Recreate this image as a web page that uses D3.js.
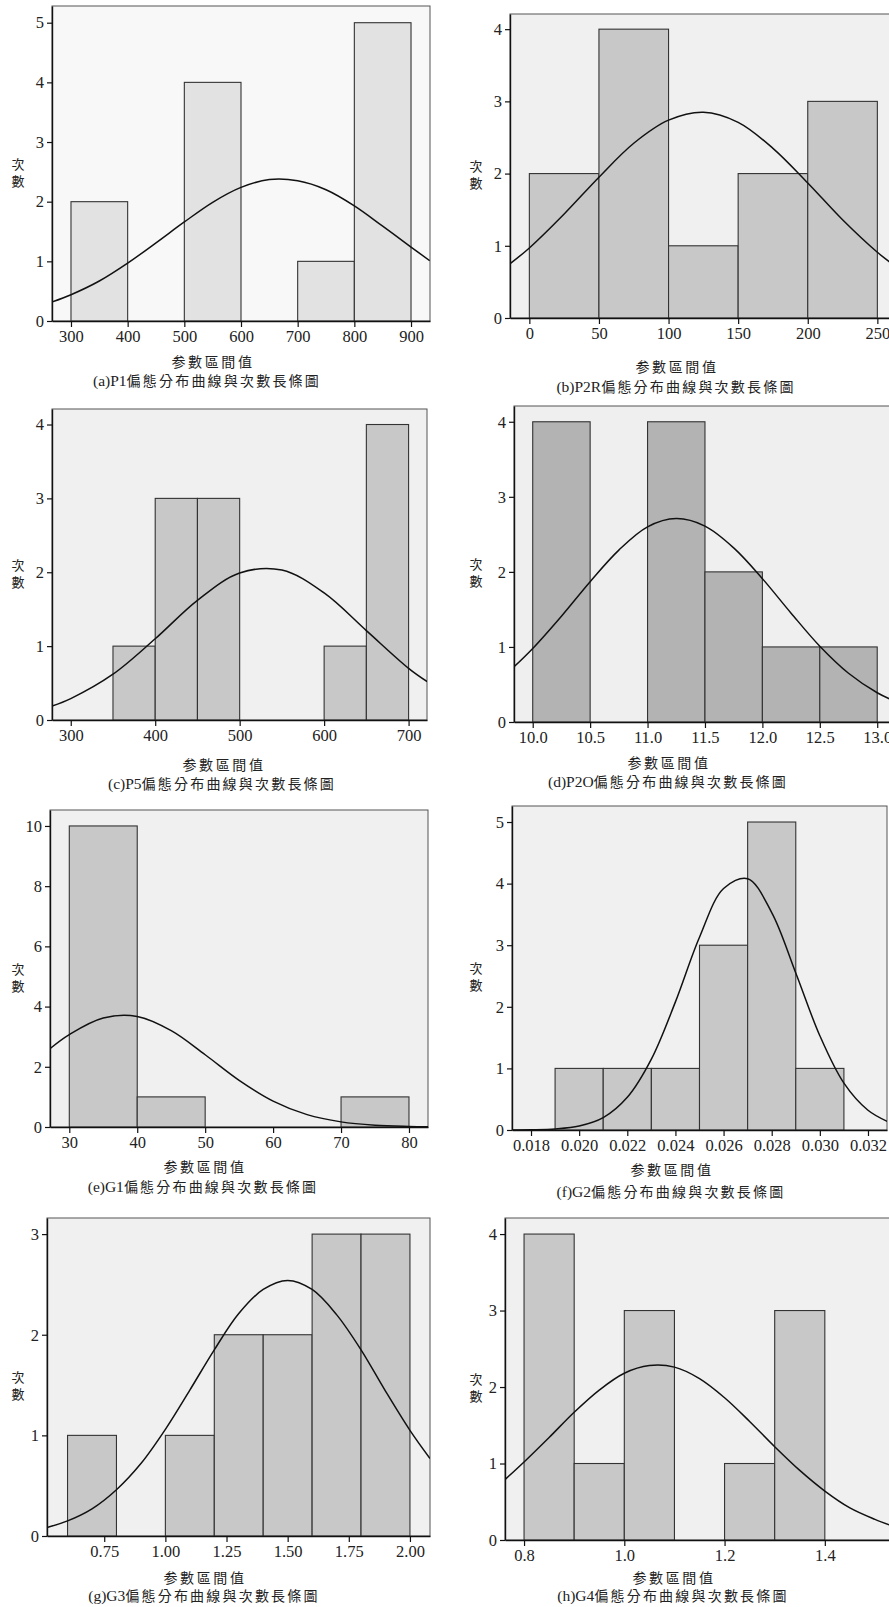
<!DOCTYPE html>
<html>
<head>
<meta charset="utf-8">
<script src="https://cdn.jsdelivr.net/npm/d3@7"></script>
<style>
  body { margin: 0; background: #fff; }
  text { font-family: "Liberation Serif", "Noto Sans CJK TC", serif; fill: #222; }
</style>
</head>
<body>
<div id="d3-container"></div>
<script>
// ---- data ----
// (a) P1
const binsP1 = [300, 500, 700, 800];
const countsP1 = [2, 4, 1, 5];
const curveXP1 = [267, 300, 350, 400, 450, 500, 550, 600, 650, 700, 750, 800, 850, 900, 933];
const curveYP1 = [0.32, 0.44, 0.67, 0.97, 1.31, 1.66, 1.99, 2.24, 2.37, 2.35, 2.20, 1.93, 1.59, 1.24, 1.01];
const xTicksP1 = [300, 400, 500, 600, 700, 800, 900];
const yTicksP1 = [0, 1, 2, 3, 4, 5];

// (b) P2R
const binsP2R = [0, 50, 100, 150, 200];
const countsP2R = [2, 4, 1, 2, 3];
const curveXP2R = [-14, 0, 25, 50, 75, 100, 125, 150, 175, 200, 225, 250, 260];
const curveYP2R = [0.75, 0.97, 1.44, 1.95, 2.42, 2.74, 2.85, 2.71, 2.35, 1.87, 1.36, 0.91, 0.76];
const xTicksP2R = [0, 50, 100, 150, 200, 250];
const yTicksP2R = [0, 1, 2, 3, 4];

// (c) P5
const binsP5 = [350, 400, 450, 600, 650];
const countsP5 = [1, 3, 3, 1, 4];
const curveXP5 = [278, 300, 350, 400, 450, 500, 550, 600, 650, 700, 722];
const curveYP5 = [0.19, 0.29, 0.62, 1.10, 1.62, 1.99, 2.03, 1.72, 1.21, 0.70, 0.52];
const xTicksP5 = [300, 400, 500, 600, 700];
const yTicksP5 = [0, 1, 2, 3, 4];

// (d) P2O
const binsP2O = [10.0, 11.0, 11.5, 12.0, 12.5];
const countsP2O = [4, 4, 2, 1, 1];
const curveXP2O = [9.84, 10.0, 10.25, 10.5, 10.75, 11.0, 11.25, 11.5, 11.75, 12.0, 12.25, 12.5, 12.75, 13.0, 13.12];
const curveYP2O = [0.74, 0.98, 1.41, 1.87, 2.29, 2.60, 2.71, 2.61, 2.32, 1.91, 1.45, 1.01, 0.65, 0.39, 0.30];
const xTicksP2O = [10.0, 10.5, 11.0, 11.5, 12.0, 12.5, 13.0];
const yTicksP2O = [0, 1, 2, 3, 4];

// (e) G1
const binsG1 = [30, 40, 70];
const countsG1 = [10, 1, 1];
const curveXG1 = [27.2, 30, 35, 40, 45, 50, 55, 60, 65, 70, 75, 80, 82.8];
const curveYG1 = [2.61, 3.07, 3.62, 3.67, 3.20, 2.40, 1.55, 0.86, 0.41, 0.17, 0.06, 0.02, 0.01];
const xTicksG1 = [30, 40, 50, 60, 70, 80];
const yTicksG1 = [0, 2, 4, 6, 8, 10];

// (f) G2
const binsG2 = [0.019, 0.021, 0.023, 0.025, 0.027, 0.029];
const countsG2 = [1, 1, 1, 3, 5, 1];
const curveXG2 = [0.0172, 0.018, 0.019, 0.020, 0.021, 0.022, 0.023, 0.024, 0.025, 0.026, 0.027, 0.028, 0.029, 0.030, 0.031, 0.032, 0.0328];
const curveYG2 = [0.001, 0.004, 0.017, 0.064, 0.20, 0.53, 1.15, 2.08, 3.13, 3.92, 4.08, 3.53, 2.55, 1.53, 0.76, 0.32, 0.14];
const xTicksG2 = [0.018, 0.020, 0.022, 0.024, 0.026, 0.028, 0.030, 0.032];
const yTicksG2 = [0, 1, 2, 3, 4, 5];

// (g) G3
const binsG3 = [0.6, 1.0, 1.2, 1.4, 1.6, 1.8];
const countsG3 = [1, 1, 2, 2, 3, 3];
const curveXG3 = [0.516, 0.6, 0.7, 0.8, 0.9, 1.0, 1.1, 1.2, 1.3, 1.4, 1.5, 1.6, 1.7, 1.8, 1.9, 2.0, 2.082];
const curveYG3 = [0.085, 0.15, 0.27, 0.46, 0.72, 1.06, 1.45, 1.85, 2.21, 2.45, 2.54, 2.45, 2.20, 1.85, 1.44, 1.05, 0.77];
const xTicksG3 = [0.75, 1.00, 1.25, 1.50, 1.75, 2.00];
const yTicksG3 = [0, 1, 2, 3];

// (h) G4
const binsG4 = [0.8, 0.9, 1.0, 1.2, 1.3];
const countsG4 = [4, 1, 3, 1, 3];
const curveXG4 = [0.762, 0.8, 0.85, 0.9, 0.95, 1.0, 1.05, 1.1, 1.15, 1.2, 1.25, 1.3, 1.35, 1.4, 1.45, 1.5, 1.532];
const curveYG4 = [0.79, 1.02, 1.34, 1.67, 1.96, 2.18, 2.28, 2.26, 2.11, 1.86, 1.55, 1.22, 0.91, 0.64, 0.42, 0.27, 0.19];
const xTicksG4 = [0.8, 1.0, 1.2, 1.4];
const yTicksG4 = [0, 1, 2, 3, 4];

const binWidths = [100, 50, 50, 0.5, 10, 0.002, 0.2, 0.1];
const captionTags = ["(a)P1", "(b)P2R", "(c)P5", "(d)P2O", "(e)G1", "(f)G2", "(g)G3", "(h)G4"];
const captionText = "偏態分布曲線與次數長條圖";
const xTitle = "参數區間值";
const yTitle = ["次", "數"];

const panels = [
  { bins: binsP1, counts: countsP1, cx: curveXP1, cy: curveYP1, xt: xTicksP1, yt: yTicksP1, fmt: "d" },
  { bins: binsP2R, counts: countsP2R, cx: curveXP2R, cy: curveYP2R, xt: xTicksP2R, yt: yTicksP2R, fmt: "d" },
  { bins: binsP5, counts: countsP5, cx: curveXP5, cy: curveYP5, xt: xTicksP5, yt: yTicksP5, fmt: "d" },
  { bins: binsP2O, counts: countsP2O, cx: curveXP2O, cy: curveYP2O, xt: xTicksP2O, yt: yTicksP2O, fmt: ".1f" },
  { bins: binsG1, counts: countsG1, cx: curveXG1, cy: curveYG1, xt: xTicksG1, yt: yTicksG1, fmt: "d" },
  { bins: binsG2, counts: countsG2, cx: curveXG2, cy: curveYG2, xt: xTicksG2, yt: yTicksG2, fmt: ".3f" },
  { bins: binsG3, counts: countsG3, cx: curveXG3, cy: curveYG3, xt: xTicksG3, yt: yTicksG3, fmt: ".2f" },
  { bins: binsG4, counts: countsG4, cx: curveXG4, cy: curveYG4, xt: xTicksG4, yt: yTicksG4, fmt: ".1f" }
];

// ---- layout (frame box = left, top, right, axis y) ----
const layout = [
  { box: [52, 6, 430, 321], xd: [266.5, 933.5], ymax: 5.28, lab: [213, 367], cap: [207, 386], bg: "#f8f8f8", bar: "#e2e2e2" },
  { box: [510, 14, 891, 318], xd: [-13.9, 259.8], ymax: 4.21, lab: [677, 372], cap: [676, 392], bg: "#f0f0f0", bar: "#c8c8c8" },
  { box: [52, 409, 427, 720], xd: [277.8, 721.8], ymax: 4.21, lab: [224, 770], cap: [222, 789], bg: "#f0f0f0", bar: "#c8c8c8" },
  { box: [514, 406, 891, 722], xd: [9.837, 13.12], ymax: 4.21, lab: [669, 768], cap: [668, 787], bg: "#efefef", bar: "#b3b3b3" },
  { box: [50, 810, 428, 1127], xd: [27.16, 82.8], ymax: 10.53, lab: [205, 1172], cap: [203, 1192], bg: "#f0f0f0", bar: "#c8c8c8" },
  { box: [512, 806, 887, 1130], xd: [0.01721, 0.03279], ymax: 5.26, lab: [672, 1175], cap: [671, 1197], bg: "#f0f0f0", bar: "#c8c8c8" },
  { box: [47, 1218, 430, 1536], xd: [0.516, 2.082], ymax: 3.16, lab: [205, 1583], cap: [204, 1601], bg: "#f0f0f0", bar: "#c8c8c8" },
  { box: [505, 1218, 891, 1540], xd: [0.762, 1.532], ymax: 4.21, lab: [674, 1583], cap: [673, 1601], bg: "#f0f0f0", bar: "#c8c8c8" }
];

const width = 889, height = 1607;
const serif = '"Liberation Serif", "Times New Roman", serif';
const svg = d3.select("#d3-container").append("svg")
  .attr("width", width).attr("height", height);

panels.forEach((p, i) => {
  const L = layout[i];
  const [left, top, right, bottom] = L.box;
  const w = binWidths[i];
  const g = svg.append("g");

  const x = d3.scaleLinear().domain(L.xd).range([left, right]);
  const y = d3.scaleLinear().domain([0, L.ymax]).range([bottom, top]);

  g.append("rect")
    .attr("x", left).attr("y", top)
    .attr("width", right - left).attr("height", bottom - top)
    .attr("fill", L.bg).attr("stroke", "#555").attr("stroke-width", 1);

  const clipId = "clip" + i;
  g.append("clipPath").attr("id", clipId).append("rect")
    .attr("x", left).attr("y", top).attr("width", right - left).attr("height", bottom - top);

  g.append("g")
    .selectAll("rect")
    .data(p.bins.map((b, k) => ({ start: b, count: p.counts[k] })))
    .join("rect")
      .attr("x", d => x(d.start))
      .attr("y", d => y(d.count))
      .attr("width", d => x(d.start + w) - x(d.start))
      .attr("height", d => y(0) - y(d.count))
      .attr("fill", L.bar)
      .attr("stroke", "#333")
      .attr("stroke-width", 1.1);

  const line = d3.line()
    .x(d => x(d[0]))
    .y(d => y(d[1]))
    .curve(d3.curveCatmullRom);

  g.append("path")
    .datum(p.cx.map((v, k) => [v, p.cy[k]]))
    .attr("clip-path", `url(#${clipId})`)
    .attr("d", line)
    .attr("fill", "none")
    .attr("stroke", "#111")
    .attr("stroke-width", 1.5);

  const xAxis = g.append("g")
    .attr("transform", `translate(0,${bottom})`)
    .call(d3.axisBottom(x).tickValues(p.xt).tickFormat(d3.format(p.fmt))
      .tickSize(6).tickSizeOuter(0).tickPadding(3));
  const yAxis = g.append("g")
    .attr("transform", `translate(${left},0)`)
    .call(d3.axisLeft(y).tickValues(p.yt).tickFormat(d3.format("d"))
      .tickSize(5).tickSizeOuter(0).tickPadding(3));

  [xAxis, yAxis].forEach(a => {
    a.attr("font-size", 16.5);
    a.select(".domain").attr("stroke", "#111").attr("stroke-width", 1.4);
    a.selectAll(".tick line").attr("stroke", "#111").attr("stroke-width", 1.2);
    a.selectAll(".tick text").attr("fill", "#222").style("font-family", serif);
  });

  const ylx = i % 2 === 0 ? 18 : 476;
  const mid = (top + bottom) / 2;
  g.selectAll(".ylab")
    .data(yTitle)
    .join("text")
      .attr("x", ylx)
      .attr("y", (d, k) => mid + 5 + k * 17)
      .attr("text-anchor", "middle")
      .attr("font-size", 13)
      .text(d => d);

  g.append("text")
    .attr("x", L.lab[0]).attr("y", L.lab[1])
    .attr("text-anchor", "middle")
    .attr("font-size", 14)
    .attr("letter-spacing", 2.6)
    .text(xTitle);

  const cap = g.append("text")
    .attr("x", L.cap[0]).attr("y", L.cap[1])
    .attr("text-anchor", "middle")
    .attr("font-size", 14);
  cap.append("tspan").style("font-family", serif).attr("font-size", 15.5).text(captionTags[i]);
  cap.append("tspan").attr("letter-spacing", 2.2).text(captionText);
});
</script>
</body>
</html>
